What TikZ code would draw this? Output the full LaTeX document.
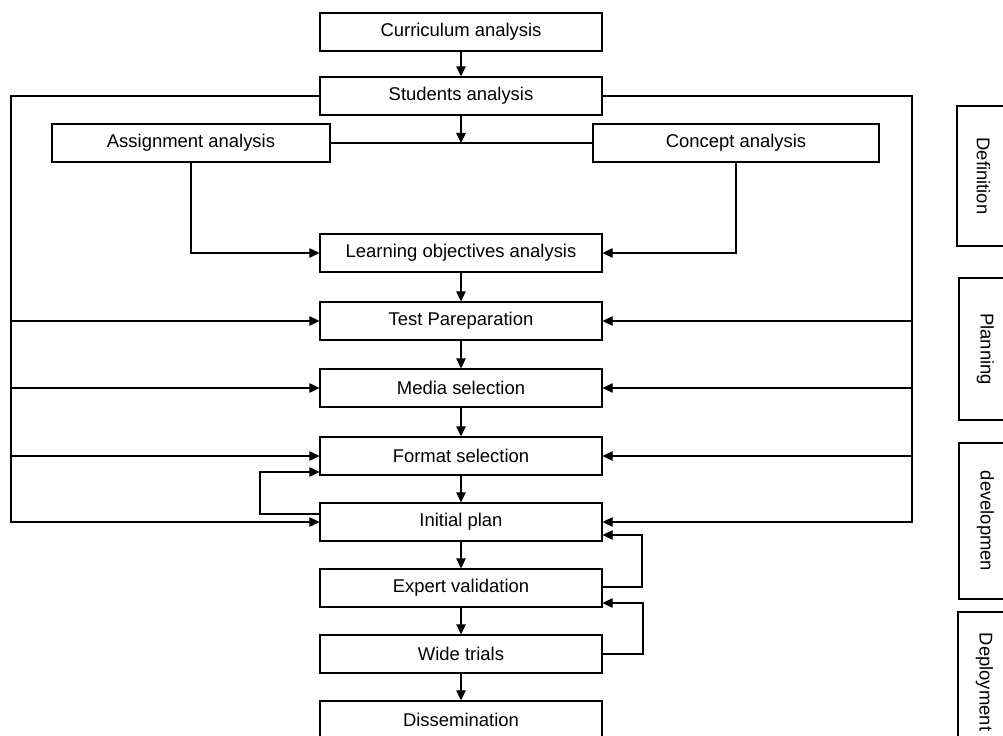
\documentclass[tikz,border=0pt]{standalone}
\usepackage{fontspec}
\setmainfont{Liberation Sans}
\usetikzlibrary{arrows.meta}

\begin{document}
\begin{tikzpicture}[x=0.02cm, y=-0.02cm,
    box/.style = {draw = black, line width = 0.7pt, inner sep = 0pt,
        minimum width = 5.64cm, minimum height = 0.76cm,
        font = \fontsize{10.5}{12}\selectfont},
    stage/.style = {draw = black, line width = 0.7pt, inner sep = 0pt,
        rotate = -90, minimum height = 1.06cm,
        font = \fontsize{10.5}{12}\selectfont},
    arr/.style = {-{Triangle[length=2mm, width=1.9mm]}, line width = 0.6pt},
    ln/.style = {line width = 0.6pt}]

    \useasboundingbox (0,0) rectangle (1003,736);

    \node[box] (cur) at (461,32) {Curriculum analysis};
    \node[box] (stu) at (461,96) {Students analysis};
    \node[box, minimum width = 5.56cm] (asg) at (191,143) {Assignment analysis};
    \node[box, minimum width = 5.72cm] (con) at (736,143) {Concept analysis};
    \node[box] (lrn) at (461,253) {Learning objectives analysis};
    \node[box] (tst) at (461,321) {Test Pareparation};
    \node[box] (med) at (461,388) {Media selection};
    \node[box] (fmt) at (461,456) {Format selection};
    \node[box] (ini) at (461,522) {Initial plan};
    \node[box] (exp) at (461,588) {Expert validation};
    \node[box] (wid) at (461,654) {Wide trials};
    \node[box] (dis) at (461,720) {Dissemination};

    \node[stage, minimum width = 2.8cm] (def) at (983.5,176) {Definition};
    \node[stage, minimum width = 2.84cm] (pln) at (985.5,349) {Planning};
    \node[stage, minimum width = 3.12cm] (dev) at (985.5,521) {developmen};
    \node[stage, minimum width = 2.8cm] (dep) at (984.5,682) {Deployment};

    \coordinate (lt) at (11,96);
    \coordinate (rt) at (912,96);
    \coordinate (lp) at (260,514);
    \coordinate (rp1) at (642,587);
    \coordinate (rp2) at (643,654);

    % main column
    \draw[arr] (cur) -- (stu);
    \draw[ln] (asg) -- (con);
    \draw[arr] (stu) -- (stu |- asg);
    \draw[arr] (asg.south) |- (lrn.west);
    \draw[arr] (con.south) |- (lrn.east);
    \draw[arr] (lrn) -- (tst);
    \draw[arr] (tst) -- (med);
    \draw[arr] (med) -- (fmt);
    \draw[arr] (fmt) -- (ini);
    \draw[arr] (ini) -- (exp);
    \draw[arr] (exp) -- (wid);
    \draw[arr] (wid) -- (dis);

    % left side
    \draw[arr] (stu.west) -- (lt) |- (ini.west);
    \draw[arr] (lt |- tst.west) -- (tst.west);
    \draw[arr] (lt |- med.west) -- (med.west);
    \draw[arr] (lt |- fmt.west) -- (fmt.west);
    \draw[arr] (ini.west |- lp) -- (lp) |- ([yshift=-0.32cm]fmt.west);

    % right side
    \draw[arr] (stu.east) -- (rt) |- (ini.east);
    \draw[arr] (rt |- tst.east) -- (tst.east);
    \draw[arr] (rt |- med.east) -- (med.east);
    \draw[arr] (rt |- fmt.east) -- (fmt.east);
    \draw[arr] (exp.east |- rp1) -- (rp1) |- ([yshift=-0.26cm]ini.east);
    \draw[arr] (wid.east |- rp2) -- (rp2) |- ([yshift=-0.3cm]exp.east);
\end{tikzpicture}
\end{document}
